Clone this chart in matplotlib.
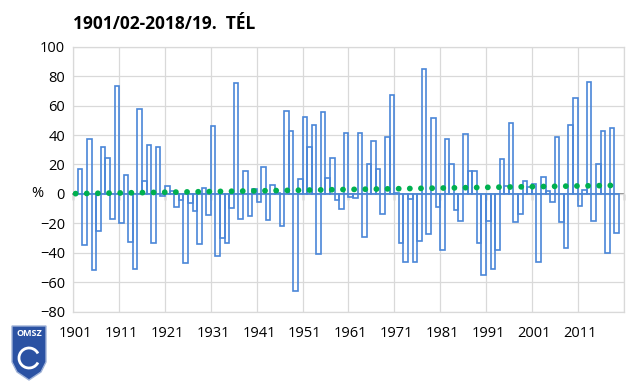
import numpy as np
import matplotlib
matplotlib.use("Agg")
import matplotlib.pyplot as plt
from matplotlib.patches import Polygon, Arc

# Winter precipitation anomaly (%), one value per winter
values = [
    0, 17, -35, 37.5, -52, -25, 32, 24.5, -17, 73.5,
    -20, 13, -32.5, -51, 58, 9, 33, -33.5, 32, -1.5,
    5.4, 2, -9, -4, -47, -6.5, -11.5, -34, 4.3, -14.5,
    46, -42, -30, -33.6, -9.5, 75.6, -16.7, 15.8, -15, 3.6,
    -5.4, 18.3, -17.6, 5.9, 0.7, -22, 56, 42.4, -65.7, 10.4,
    52, 32, 47, -41, 55.5, 11, 24.6, -4.3, -10.4, 41.5,
    -2, -3, 41.3, -29, 20.5, 35.7, 17, -13.3, 38.6, 67,
    0.7, -33.6, -46, -3.6, -46, -32, 85, -27, 51.7, -8.8,
    -38, 37, 20.5, -10.6, -18.3, 41, 15.6, 15.6, -33.6, -55.3,
    -18.3, -51, -38, 23.5, 5.2, 48, -19, -13.8, 8.6, 4.7,
    7, -46, 11.5, 2, -5.4, 39, -19, -37, 46.5, 65,
    -8.4, 2.5, 75.8, -18.3, 20.5, 42.7, -40, 45, -26.4,
]
# linear trend, value at first and last winter
trend_ends = [0.2, 5.8]
year_labels = ["1901", "1911", "1921", "1931", "1941", "1951",
               "1961", "1971", "1981", "1991", "2001", "2011"]

BAR_COLOR = "#4a86d8"
TREND_COLOR = "#00b050"
GRID_COLOR = "#d9d9d9"
AXIS_COLOR = "#868686"

plt.rcParams["font.family"] = ["Open Sans", "DejaVu Sans"]

W, H = 640, 384
fig = plt.figure(figsize=(W / 100, H / 100), dpi=100)
left, right, top, bottom = 73.3, 623.5, 46.7, 311.7
ax = fig.add_axes([left / W, 1 - bottom / H, (right - left) / W, (bottom - top) / H])

x = np.arange(len(values))
ax.bar(x, values, width=1.0, facecolor="none", edgecolor=BAR_COLOR,
       linewidth=1.2, zorder=3)
ax.plot([x[0], x[-1]], trend_ends, color=TREND_COLOR, linewidth=4.2,
        linestyle=(0, (0.01, 1.9)), dash_capstyle="round", zorder=4)

ax.set_xlim(-0.5, 119.5)
ax.set_ylim(-80, 100)
ax.set_yticks(range(-80, 101, 20))
ax.set_xticks(x[::10])
ax.set_xticklabels(year_labels)
ax.set_xticks(np.arange(-0.5, 120, 10), minor=True)
ax.grid(which="minor", axis="x", color=GRID_COLOR, linewidth=0.9)
ax.grid(which="major", axis="y", color=GRID_COLOR, linewidth=0.9)
ax.set_axisbelow(True)
ax.tick_params(axis="x", which="both", length=0, pad=10, labelsize=10.5,
               colors="black")
ax.tick_params(axis="y", length=0, pad=6, labelsize=10.5)
for sp in ax.spines.values():
    sp.set_color(GRID_COLOR)
    sp.set_linewidth(0.9)

# zero axis line with tick marks
zero = ax.secondary_xaxis(0, transform=ax.transData)
zero.set_xticks(np.arange(-0.5, 120, 10))
zero.tick_params(length=4, width=1, color=AXIS_COLOR, labelbottom=False,
                 direction="out")
for sp in zero.spines.values():
    sp.set_color(AXIS_COLOR)
    sp.set_linewidth(1.3)

ax.set_ylabel("%", rotation=0, fontsize=10.5, va="center", ha="center")
ax.yaxis.set_label_coords((37 - left) / (right - left), 80 / 180)

fig.text(left / W, 1 - 24 / H, "1901/02-2018/19.  TÉL", fontsize=12.5,
         fontweight="bold", va="center", ha="left")

# OMSZ logo (simple shield)
def px(a, b):
    return (a / W, 1 - b / H)

shield = Polygon([px(12, 326), px(46, 326), px(46, 362), px(41, 372),
                  px(29, 380), px(17, 372), px(12, 362)],
                 closed=True, transform=fig.transFigure,
                 facecolor="#2b52a3", edgecolor="#9fb2d8", linewidth=1)
fig.patches.append(shield)
fig.text(29 / W, 1 - 334 / H, "OMSZ", color="white", fontsize=6.5,
         fontweight="bold", ha="center", va="center")
swirl = Arc(px(29, 358), 20 / W, 20 / H, theta1=40, theta2=320,
            transform=fig.transFigure, color="white", linewidth=2)
fig.patches.append(swirl)

fig.savefig("out.png", dpi=100)
